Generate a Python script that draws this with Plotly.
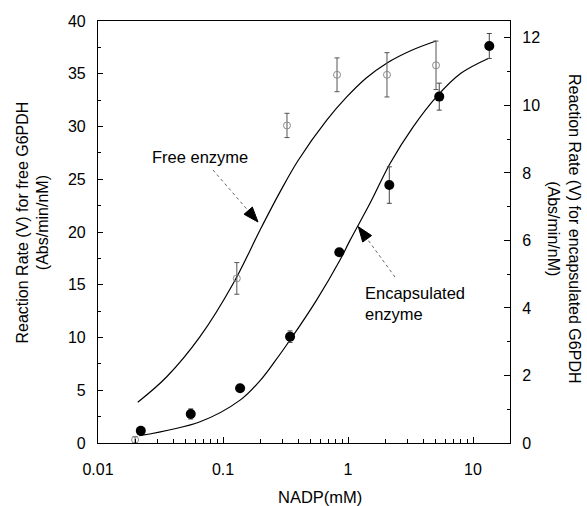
import math
import plotly.graph_objects as go

# ---- data ----
free_x = [0.0198, 0.129, 0.325, 0.817, 2.05, 5.06]
free_y = [0.3, 15.6, 30.1, 34.9, 34.9, 35.8]
free_err = [0.3, 1.5, 1.15, 1.6, 2.1, 2.3]

enc_x = [0.022, 0.0552, 0.137, 0.344, 0.852, 2.14, 5.37, 13.5]
enc_y = [0.36, 0.86, 1.62, 3.15, 5.65, 7.64, 10.26, 11.76]
enc_err = [0.0, 0.15, 0.0, 0.17, 0.0, 0.54, 0.4, 0.37]

free_fit_x = [0.0208, 0.0355, 0.0655, 0.121, 0.198, 0.286, 0.40, 0.676, 0.977, 1.4, 2.04, 3.2, 5.06]
free_fit_y = [3.86, 6.28, 10.08, 15.14, 20.19, 23.8, 26.8, 30.6, 32.8, 34.6, 36.0, 37.2, 38.1]

enc_fit_x = [0.0214, 0.0655, 0.137, 0.198, 0.252, 0.344, 0.562, 0.863, 1.04, 1.5, 2.17, 3.3, 5.12, 8.0, 13.25]
enc_fit_y = [0.216, 0.63, 1.27, 1.85, 2.35, 3.05, 4.24, 5.42, 6.01, 7.1, 8.28, 9.35, 10.26, 10.95, 11.39]

x_ticks = [0.01, 0.1, 1, 10]
x_tick_labels = ["0.01", "0.1", "1", "10"]

FONT = "Liberation Sans, Arial, Helvetica, sans-serif"

# ---- layout geometry (pixels) ----
W, H = 587, 506
L, R, T, B = 98, 77, 21, 63
PW, PH = W - L - R, H - T - B


def px2paper(px, py):
    return (px - L) / PW, (H - B - py) / PH


fig = go.Figure()

fig.add_trace(go.Scatter(
    x=free_fit_x, y=free_fit_y, mode="lines",
    line=dict(color="black", width=1.2, shape="spline", smoothing=1.0),
    hoverinfo="skip", showlegend=False, yaxis="y"))

fig.add_trace(go.Scatter(
    x=free_x, y=free_y, mode="markers",
    marker=dict(symbol="circle-open", size=7, color="#8a8a8a", line=dict(width=1)),
    error_y=dict(type="data", array=free_err, visible=True, color="#555555", thickness=1, width=2.5),
    showlegend=False, yaxis="y"))

fig.add_trace(go.Scatter(
    x=enc_fit_x, y=enc_fit_y, mode="lines",
    line=dict(color="black", width=1.2, shape="spline", smoothing=1.0),
    hoverinfo="skip", showlegend=False, yaxis="y2"))

fig.add_trace(go.Scatter(
    x=enc_x, y=enc_y, mode="markers",
    marker=dict(symbol="circle", size=10, color="black"),
    error_y=dict(type="data", array=enc_err, visible=True, color="#444444", thickness=1, width=2.5),
    showlegend=False, yaxis="y2"))

axis_common = dict(
    showline=True, linecolor="black", linewidth=1.2,
    showgrid=False, zeroline=False, automargin=False,
    tickfont=dict(family=FONT, size=16, color="black"),
)

fig.update_layout(
    width=W, height=H,
    margin=dict(l=L, r=R, t=T, b=B, pad=0, autoexpand=False),
    paper_bgcolor="white", plot_bgcolor="white",
    font=dict(family=FONT, size=16, color="black"),
    xaxis=dict(
        type="log", range=[-2, 1.296],
        tickvals=x_ticks, ticktext=x_tick_labels,
        ticks="inside", ticklen=6, tickwidth=1, tickcolor="black",
        minor=dict(ticks="inside", ticklen=4, dtick="D1", tickcolor="black", showgrid=False),
        mirror=True, ticklabelstandoff=12,
        **axis_common),
    yaxis=dict(
        range=[0, 40], dtick=5,
        ticks="inside", ticklen=5, tickwidth=1, tickcolor="black",
        minor=dict(ticks="inside", ticklen=3, dtick=2.5, tickcolor="black"),
        ticklabelstandoff=8,
        **axis_common),
    yaxis2=dict(
        overlaying="y", side="right",
        range=[0, 12.5], tickvals=[0, 2, 4, 6, 8, 10, 12],
        ticks="inside", ticklen=6, tickwidth=1, tickcolor="black",
        minor=dict(ticks="inside", ticklen=3, dtick=1, tickcolor="black"),
        ticklabelstandoff=8,
        **axis_common),
)

annotations = []
# axis titles
ax_, ay_ = px2paper(320, 497)
annotations.append(dict(x=ax_, y=ay_, xref="paper", yref="paper", text="NADP(mM)",
                        showarrow=False, xanchor="center", yanchor="middle",
                        font=dict(family=FONT, size=16.5)))
lx, ly = px2paper(32, 222.5)
annotations.append(dict(x=lx, y=ly, xref="paper", yref="paper",
                        text="Reaction Rate (V) for free G6PDH<br>(Abs/min/nM)",
                        showarrow=False, textangle=-90, xanchor="center", yanchor="middle",
                        font=dict(family=FONT, size=16)))
rx, ry = px2paper(564, 228)
annotations.append(dict(x=rx, y=ry, xref="paper", yref="paper",
                        text="Reaction Rate (V) for encapsulated G6PDH<br>(Abs/min/nM)",
                        showarrow=False, textangle=90, xanchor="center", yanchor="middle",
                        font=dict(family=FONT, size=16)))
# labels
fx, fy = px2paper(150, 157)
annotations.append(dict(x=fx, y=fy, xref="paper", yref="paper", text="Free enzyme",
                        showarrow=False, xanchor="left", yanchor="middle",
                        font=dict(family=FONT, size=16.5)))
ex, ey = px2paper(363, 303)
annotations.append(dict(x=ex, y=ey, xref="paper", yref="paper", text="Encapsulated<br>enzyme",
                        showarrow=False, xanchor="left", yanchor="middle", align="left",
                        font=dict(family=FONT, size=16.5)))
fig.update_layout(annotations=annotations)

# arrows: dotted shaft + solid head
shapes = []
for (tx, ty), (hx, hy) in [((213, 170), (258, 222)), ((395, 277), (358.3, 226.7))]:
    dx, dy = hx - tx, hy - ty
    d = math.hypot(dx, dy)
    ux, uy = dx / d, dy / d
    hl, hw = 15, 5.5
    bx, by = hx - ux * hl, hy - uy * hl
    p0 = px2paper(tx, ty)
    p1 = px2paper(bx, by)
    shapes.append(dict(type="line", xref="paper", yref="paper",
                       x0=p0[0], y0=p0[1], x1=p1[0], y1=p1[1],
                       line=dict(color="#666666", width=1, dash="dot")))
    a = px2paper(hx, hy)
    b = px2paper(bx - uy * hw, by + ux * hw)
    c = px2paper(bx + uy * hw, by - ux * hw)
    path = f"M {a[0]} {a[1]} L {b[0]} {b[1]} L {c[0]} {c[1]} Z"
    shapes.append(dict(type="path", xref="paper", yref="paper", path=path,
                       fillcolor="black", line=dict(color="black", width=1)))
fig.update_layout(shapes=shapes)

fig.write_html(
    "out.html",
    config={"displayModeBar": False},
    post_script="document.body.style.margin='0';document.body.style.padding='0';"
                "document.documentElement.style.overflow='hidden';",
)
